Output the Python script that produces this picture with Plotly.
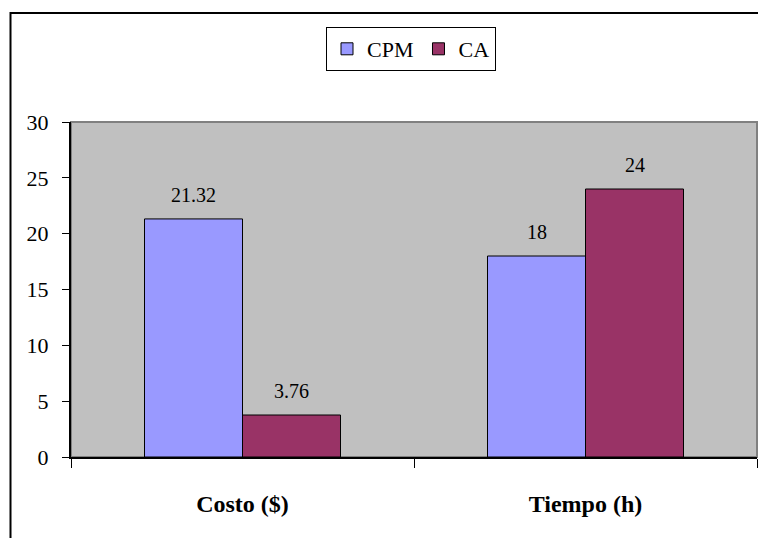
import plotly.graph_objects as go

categories = ["Costo ($)", "Tiempo (h)"]
cpm_values = [21.32, 18]
ca_values = [3.76, 24]
cpm_labels = ["21.32", "18"]
ca_labels = ["3.76", "24"]
y_ticks = [0, 5, 10, 15, 20, 25, 30]

W, H = 758, 538
ML, MR, MT, MB = 71, 1, 122, 81
PW, PH = W - ML - MR, H - MT - MB
BAR_PX = PW / 2 / 3.5  # bar width in pixels (gap = 1.5 bar widths)

FONT = "Liberation Serif"

fig = go.Figure()
fig.add_trace(go.Bar(
    name="CPM", x=categories, y=cpm_values,
    marker=dict(color="#9999FF", line=dict(color="black", width=1)),
))
fig.add_trace(go.Bar(
    name="CA", x=categories, y=ca_values,
    marker=dict(color="#993366", line=dict(color="black", width=1)),
))

# value labels above each bar
for vals, labels, shift in ((cpm_values, cpm_labels, -BAR_PX / 2),
                            (ca_values, ca_labels, BAR_PX / 2)):
    for cat, v, lab in zip(categories, vals, labels):
        fig.add_annotation(
            x=cat, y=v, text=lab, showarrow=False,
            xshift=shift, yshift=11, yanchor="bottom",
            font=dict(family=FONT, size=20, color="black"),
        )


def px_x(p):
    return (p - ML) / PW


def px_y(p):
    return (H - MB - p) / PH


# plot-area frame (gray top/right edges) and the outer chart border
fig.add_shape(type="rect", xref="paper", yref="paper", x0=0, x1=1, y0=0, y1=1,
              line=dict(color="#808080", width=2), layer="below")
fig.add_shape(type="rect", xref="paper", yref="paper",
              x0=px_x(10.5), x1=px_x(W + 20), y0=px_y(H + 20), y1=px_y(13),
              line=dict(color="black", width=2), layer="above")

fig.update_layout(
    width=W, height=H,
    margin=dict(l=ML, r=MR, t=MT, b=MB),
    paper_bgcolor="white",
    plot_bgcolor="#C0C0C0",
    barmode="group",
    bargap=1.5 / 3.5,
    bargroupgap=0,
    font=dict(family=FONT, color="black"),
    showlegend=True,
    legend=dict(
        orientation="h",
        x=px_x(411), xanchor="center",
        y=px_y(27), yanchor="top",
        bgcolor="white", bordercolor="black", borderwidth=1,
        font=dict(family=FONT, size=22, color="black"),
        itemwidth=30, tracegroupgap=0,
    ),
    xaxis=dict(
        type="category",
        tickson="boundaries",
        ticks="outside", ticklen=9, tickcolor="black", tickwidth=1,
        showline=True, linecolor="black", linewidth=2,
        showgrid=False, zeroline=False,
        tickfont=dict(family=FONT, size=24, color="black", weight="bold"),
        ticklabelstandoff=24,
    ),
    yaxis=dict(
        range=[0, 30],
        tickvals=y_ticks,
        ticks="outside", ticklen=7, tickcolor="black", tickwidth=1,
        showline=True, linecolor="black", linewidth=2,
        showgrid=False, zeroline=False,
        tickfont=dict(family=FONT, size=22, color="black"),
        ticklabelstandoff=9,
    ),
)

fig.write_html("out.html")
